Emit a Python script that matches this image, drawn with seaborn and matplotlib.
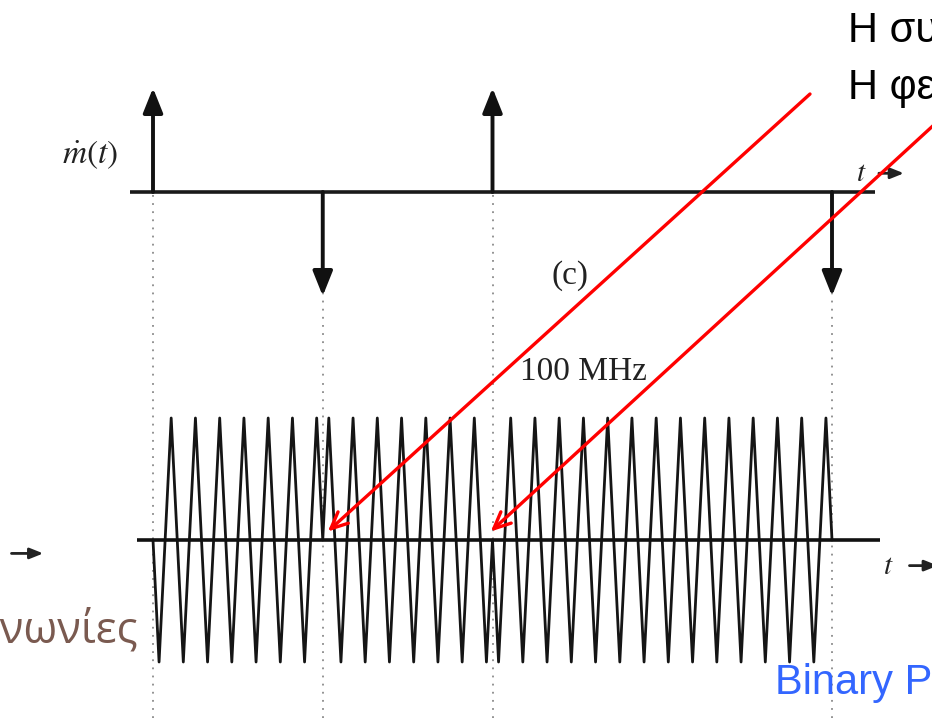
import numpy as np
import matplotlib
matplotlib.use("Agg")
import matplotlib.pyplot as plt
import seaborn as sns

# ---- data ----
impulse_times = [0, 1, 2, 4]          # transitions of m(t), in bit periods
impulse_signs = [1, -1, 1, -1]        # up / down impulses of m'(t)
bit_edges = [0, 1, 2, 3, 4]
bit_phase = [-1, 1, -1, -1]           # carrier sign in each bit (phase flips at impulses)
cycles_per_bit = 7
carrier_label = "100 MHz"

W, H = 932, 718
sns.set_style("white")
plt.rcParams["mathtext.fontset"] = "stix"

fig = plt.figure(figsize=(W / 100, H / 100), dpi=100)

# pixel helpers for axes placement
x0_px, px_per_bit = 153, 169.75
xlim = (-x0_px / px_per_bit, (W - x0_px) / px_per_bit)


def add_ax(top_px, bot_px, base_px, px_per_unit):
    ax = fig.add_axes([0, 1 - bot_px / H, 1, (bot_px - top_px) / H])
    ax.set_xlim(*xlim)
    ax.set_ylim(-(bot_px - base_px) / px_per_unit, (base_px - top_px) / px_per_unit)
    ax.axis("off")
    ax.patch.set_alpha(0)
    return ax


ax_top = add_ax(40, 380, 192, 104)
ax_bot = add_ax(380, 718, 540, 122)

dots = dict(ls=(0, (1, 3.5)), color="#8a8a8a", lw=1.3)
# dotted guide lines at each transition
for t in impulse_times:
    ax_top.plot([t, t], [-0.03, ax_top.get_ylim()[0]], **dots)
    ax_bot.plot([t, t], list(ax_bot.get_ylim()), **dots)

small_arrow = dict(arrowstyle="-|>,head_length=0.8,head_width=0.32", color="#222222", lw=2.0)

# top signal: m'(t)
ax_top.plot([-0.136, 4.253], [0, 0], color="#1a1a1a", lw=2.6, solid_capstyle="butt")
for t, s in zip(impulse_times, impulse_signs):
    ax_top.annotate("", xy=(t, s * 1.0), xytext=(t, 0),
                    arrowprops=dict(arrowstyle="-|>,head_length=1.5,head_width=0.6",
                                    color="#111111", lw=2.8, shrinkA=0, shrinkB=0))
ax_top.text(-0.37, 0.36, r"$\dot{m}(t)$", fontsize=24, ha="center", va="center", color="#222222")
ax_top.text(4.17, 0.18, r"$t$", fontsize=21, ha="center", va="center", color="#222222")
ax_top.annotate("", xy=(4.44, 0.18), xytext=(4.26, 0.18), arrowprops=small_arrow)
ax_top.text(2.456, -0.80, "(c)", fontsize=24, family="Liberation Serif", ha="center", va="center",
            color="#222222")
ax_top.text(2.534, -1.73, carrier_label, fontsize=24, family="Liberation Serif", ha="center",
            va="center", color="#222222")

# bottom signal: BPSK carrier (triangular looking scan)
tt, yy = [], []
for (a, b), ph in zip(zip(bit_edges[:-1], bit_edges[1:]), bit_phase):
    q = np.linspace(a, b, 4 * cycles_per_bit + 1)
    v = np.tile([0, 1, 0, -1], cycles_per_bit)
    v = np.append(v, 0) * ph
    tt.extend(q)
    yy.extend(v)
ax_bot.plot(tt, yy, color="#151515", lw=2.0)
ax_bot.plot([-0.094, 4.283], [0, 0], color="#111111", lw=2.6, solid_capstyle="butt")
ax_bot.text(4.33, -0.21, r"$t$", fontsize=21, ha="center", va="center", color="#222222")
ax_bot.annotate("", xy=(4.64, -0.21), xytext=(4.44, -0.21), arrowprops=small_arrow,
                annotation_clip=False)
ax_bot.annotate("", xy=(-0.63, -0.11), xytext=(-0.85, -0.11), arrowprops=small_arrow,
                annotation_clip=False)

# red arrows from the slide text to the phase flips
for tip, tail in [((1.03, 0.07), (810 / W, 1 - 94 / H)), ((1.99, 0.07), (960 / W, 1 - 101 / H))]:
    ax_bot.annotate("", xy=tip, xytext=tail, textcoords="figure fraction",
                    arrowprops=dict(arrowstyle="->,head_length=1.2,head_width=0.55", color="#ff0000",
                                    lw=2.4, shrinkA=0, shrinkB=0),
                    annotation_clip=False)

# slide texts (cut by the frame in the original)
fig.text(848 / W, 1 - 30 / H, "Η συχνότητα μένει ίδια", fontsize=30, family="Liberation Sans",
         va="center", ha="left", color="#000000")
fig.text(848 / W, 1 - 87 / H, "Η φερουσα αλλάζει φάση", fontsize=30, family="Liberation Sans",
         va="center", ha="left", color="#000000")
fig.text(775 / W, 1 - 683 / H, "Binary PSK", fontsize=30, family="Liberation Sans",
         va="center", ha="left", color="#3366ff")
fig.text(138 / W, 1 - 630 / H, "Τηλεπικοινωνίες", fontsize=31.5, family="Open Sans",
         va="center", ha="right", color="#7a5a50")

fig.savefig("out.png", dpi=100)
